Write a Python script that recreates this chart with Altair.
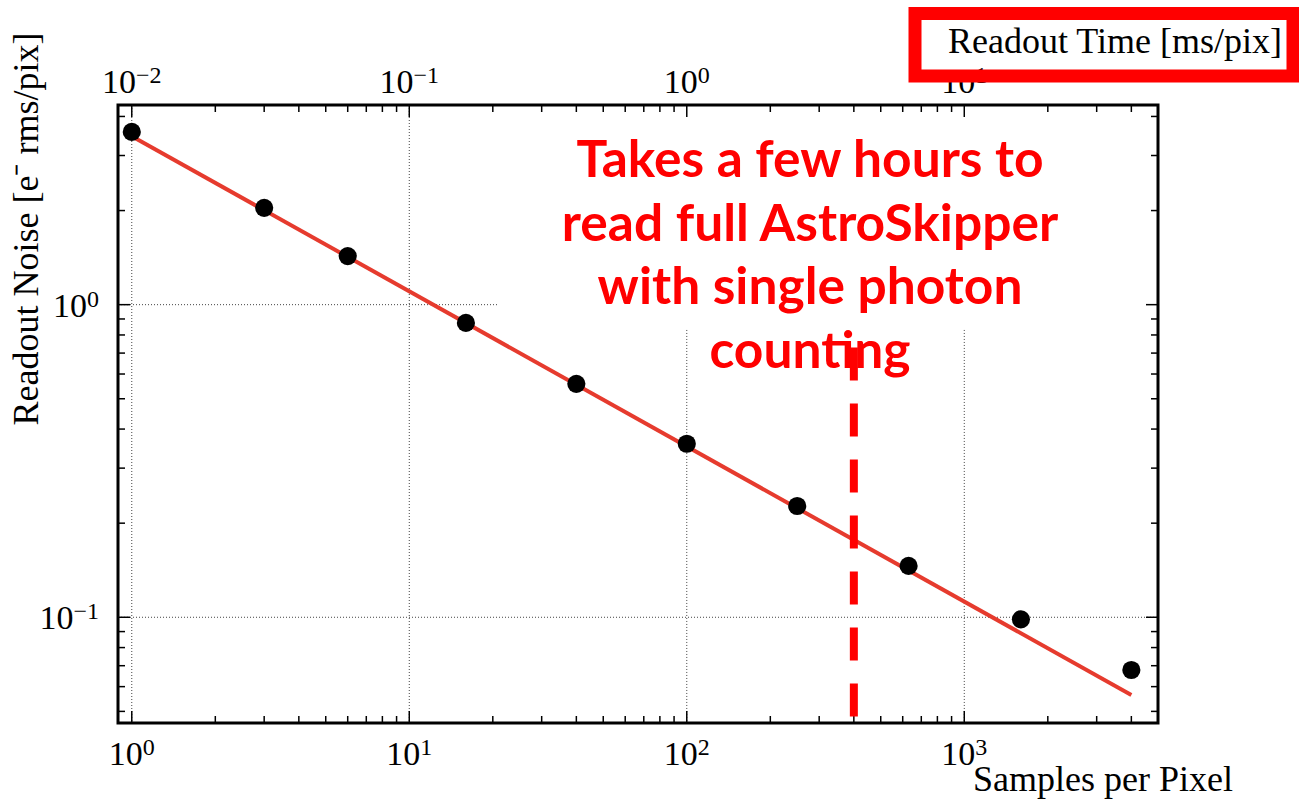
import altair as alt
import pandas as pd

# ---- data ----
samples = [1, 3, 6, 16, 40, 100, 250, 630, 1600, 4000]
noise = [3.57, 2.04, 1.43, 0.874, 0.558, 0.359, 0.227, 0.146, 0.0985, 0.0678]

fit_x = [1, 4000]
fit_y = [3.46, 0.0564]

cut_x = 400          # dashed red marker (samples per pixel)
cut_y_top = 0.73

x_major = [1, 10, 100, 1000]
x_major_exp = ["0", "1", "2", "3"]
x_minor = [2, 3, 4, 5, 6, 7, 8, 9, 20, 30, 40, 50, 60, 70, 80, 90,
           200, 300, 400, 500, 600, 700, 800, 900, 2000, 3000, 4000]
y_major = [0.1, 1]
y_major_exp = ["−1", "0"]
y_minor = [0.05, 0.06, 0.07, 0.08, 0.09, 0.2, 0.3, 0.4, 0.5, 0.6, 0.7, 0.8, 0.9, 2, 3, 4]

top_ms = [0.01, 0.1, 1, 10]          # readout time tick values
top_exp = ["−2", "−1", "0", "1"]
ms_per_sample = 0.01

x_domain = [0.892, 4990]
y_domain = [0.0459, 4.352]

note_lines = ["Takes a few hours to", "read full AstroSkipper",
              "with single photon", "counting"]
note_x, note_y = 278, 2.56

x_title = "Samples per Pixel"
y_title = "Readout Noise [e⁻ rms/pix]"
top_title = "Readout Time [ms/pix]"

W, H = 1040, 618
SERIF = "Liberation Serif"
FS, FSE = 34, 24          # tick label font size, exponent font size

xs = alt.Scale(type="log", domain=x_domain, nice=False)
ys = alt.Scale(type="log", domain=y_domain, nice=False)

def xenc(f="x:Q"):
    return alt.X(f, scale=xs, axis=None)

def yenc(f="y:Q"):
    return alt.Y(f, scale=ys, axis=None)

pts = pd.DataFrame({"x": samples, "y": noise})
fit = pd.DataFrame({"x": fit_x, "y": fit_y})

# grid lines (dotted), cut where the annotation sits
vgrid = pd.DataFrame({"x": x_major,
                      "y1": [y_domain[1], y_domain[1], 0.83, 0.83],
                      "y2": [y_domain[0]] * 4})
hgrid = pd.DataFrame({"y": y_major, "x1": [x_domain[0]] * 2,
                      "x2": [x_domain[1], 21]})
grid_style = dict(color="#444444", strokeWidth=1, strokeDash=[1, 2])
vg = alt.Chart(vgrid).mark_rule(**grid_style).encode(x=xenc(), y=yenc("y1:Q"), y2="y2:Q")
hg = alt.Chart(hgrid).mark_rule(**grid_style).encode(y=yenc(), x=xenc("x1:Q"), x2="x2:Q")

# inward ticks on all four sides
def xticks(vals, L):
    base = alt.Chart(pd.DataFrame({"x": vals})).mark_rule(color="black", strokeWidth=1.5)
    return [base.encode(x=xenc(), y=alt.value(H), y2=alt.value(H - L)),
            base.encode(x=xenc(), y=alt.value(0), y2=alt.value(L))]

def yticks(vals, L):
    base = alt.Chart(pd.DataFrame({"y": vals})).mark_rule(color="black", strokeWidth=1.5)
    return [base.encode(y=yenc(), x=alt.value(0), x2=alt.value(L)),
            base.encode(y=yenc(), x=alt.value(W), x2=alt.value(W - L))]

ticks = xticks(x_major, 12) + xticks(x_minor, 7) + yticks(y_major, 12) + yticks(y_minor, 7)

# power-of-ten tick labels: "10" plus a raised exponent
def exp_width(e):
    return sum(13.5 if c == "−" else 0.5 * FSE for c in e)

W10 = FS  # width of "10"

def xlabel(xval, e, ybase):
    d = pd.DataFrame({"x": [xval], "b": ["10"], "e": [e]})
    w = W10 + exp_width(e)
    b = alt.Chart(d).mark_text(font=SERIF, fontSize=FS, color="black", align="left",
                               baseline="alphabetic", dx=-w / 2).encode(
        x=xenc(), y=alt.value(ybase), text="b:N")
    s = alt.Chart(d).mark_text(font=SERIF, fontSize=FSE, color="black", align="left",
                               baseline="alphabetic", dx=-w / 2 + W10).encode(
        x=xenc(), y=alt.value(ybase - 10), text="e:N")
    return [b, s]

def ylabel(yval, e):
    d = pd.DataFrame({"y": [yval], "b": ["10"], "e": [e]})
    we = exp_width(e)
    b = alt.Chart(d).mark_text(font=SERIF, fontSize=FS, color="black", align="right",
                               baseline="alphabetic", dx=-19 - we, dy=12).encode(
        y=yenc(), x=alt.value(0), text="b:N")
    s = alt.Chart(d).mark_text(font=SERIF, fontSize=FSE, color="black", align="right",
                               baseline="alphabetic", dx=-19, dy=2).encode(
        y=yenc(), x=alt.value(0), text="e:N")
    return [b, s]

labels = []
for v, e in zip(x_major, x_major_exp):
    labels += xlabel(v, e, H + 42)
for v, e in zip(top_ms, top_exp):
    labels += xlabel(v / ms_per_sample, e, -12)
for v, e in zip(y_major, y_major_exp):
    labels += ylabel(v, e)

title_df = pd.DataFrame({"xt": [x_title], "yt": [y_title], "tt": [top_title]})
xt = alt.Chart(title_df).mark_text(font=SERIF, fontSize=36, color="black", align="right",
                                   baseline="alphabetic").encode(
    x=alt.value(1115), y=alt.value(H + 68), text="xt:N")
yt = alt.Chart(title_df).mark_text(font=SERIF, fontSize=36, color="black", align="center",
                                   baseline="alphabetic", angle=270).encode(
    x=alt.value(-80), y=alt.value(124), text="yt:N")

line = alt.Chart(fit).mark_line(color="#e63b2e", strokeWidth=4).encode(x=xenc(), y=yenc())

points = alt.Chart(pts).mark_point(filled=True, color="black", size=330,
                                   opacity=1, shape="circle").encode(x=xenc(), y=yenc())

cut_df = pd.DataFrame({"x": [cut_x], "y1": [cut_y_top], "y2": [y_domain[0]]})
cut = alt.Chart(cut_df).mark_rule(color="#ff0000", strokeWidth=8,
                                  strokeDash=[33, 23]).encode(
    x=xenc(), y=yenc("y1:Q"), y2="y2:Q")

note_df = pd.DataFrame({"x": [note_x], "y": [note_y], "t": [note_lines]})
note = alt.Chart(note_df).mark_text(font="Lato", fontWeight="bold", fontSize=51.5,
                                    color="#ff0000", align="center",
                                    baseline="alphabetic", lineHeight=63.5).encode(
    x=xenc(), y=yenc(), text="t")

# top-right boxed title
box = alt.Chart(title_df).mark_rect(fillOpacity=0, stroke="#ff0000",
                                    strokeWidth=13).encode(
    x=alt.value(797), x2=alt.value(1175), y=alt.value(-91.5), y2=alt.value(-29))
box_txt = alt.Chart(title_df).mark_text(font=SERIF, fontSize=36, color="black",
                                        align="left", baseline="alphabetic").encode(
    x=alt.value(830), y=alt.value(-52), text="tt:N")

chart = alt.layer(vg, hg, *ticks, line, cut, note, points, *labels, xt, yt,
                  box, box_txt).properties(
    width=W, height=H, autosize=alt.AutoSizeParams(type="none"),
    padding={"left": 118, "top": 105, "right": 141, "bottom": 76},
    background="white"
).configure_view(stroke="black", strokeWidth=3)

chart.save("out.html", embed_options={"renderer": "svg", "actions": False})
